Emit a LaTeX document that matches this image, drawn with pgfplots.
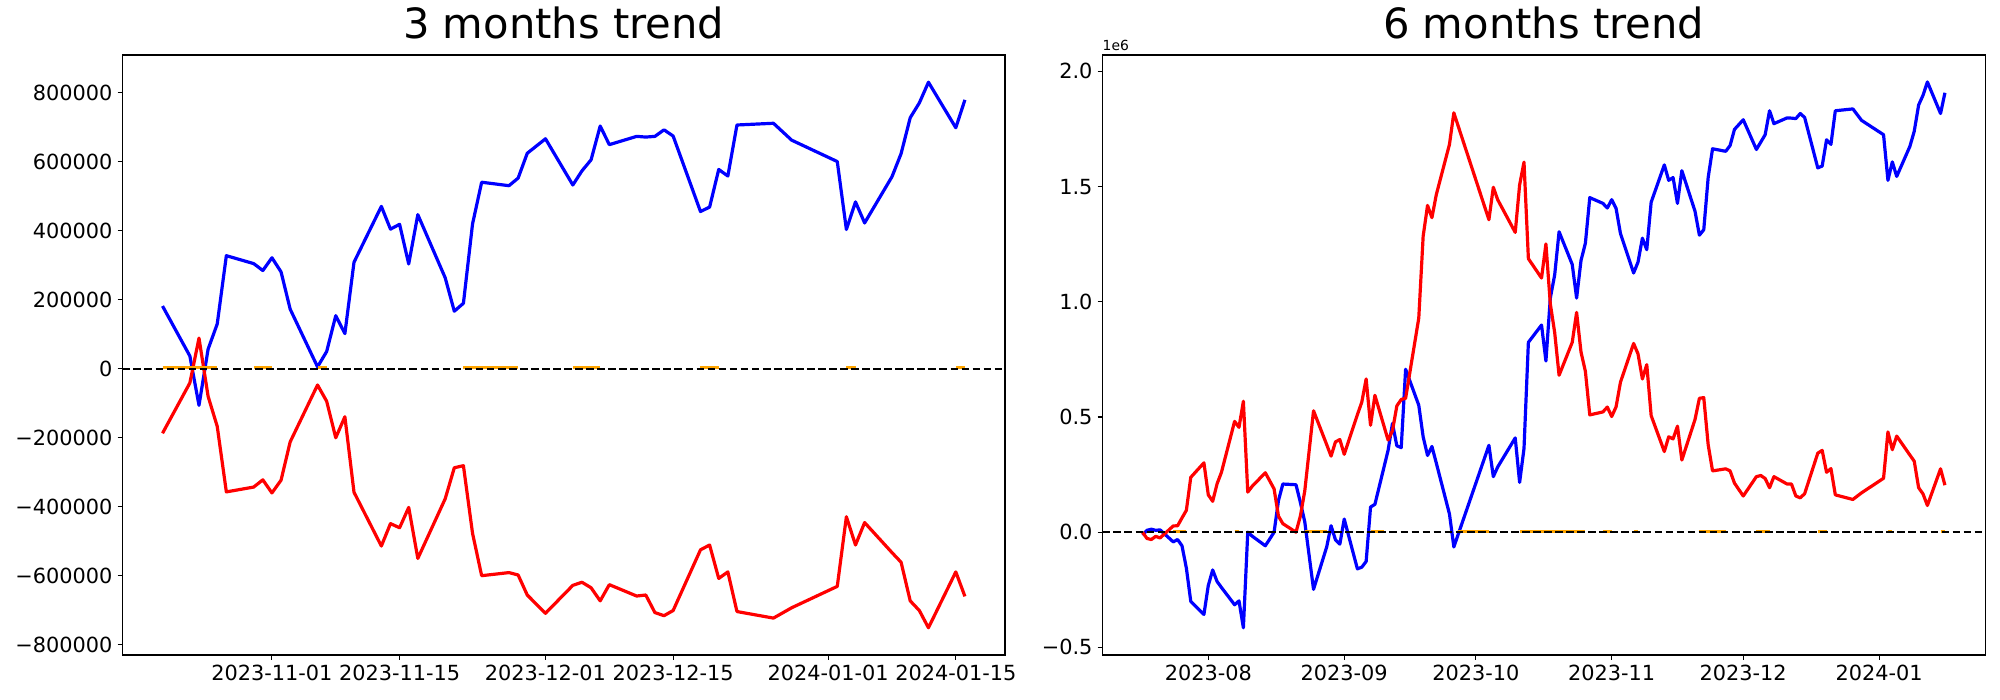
\documentclass[border=0pt]{standalone}
\usepackage{fontspec}
\setmainfont{DejaVu Sans}
\usepackage{pgfplots}
\usepackage{pgfplotstable}
\pgfplotsset{compat=1.18}
\definecolor{mplorange}{RGB}{255,165,0}
\definecolor{mplblue}{RGB}{0,0,255}
\definecolor{mplred}{RGB}{255,0,0}

\pgfplotstableread{
d blue red
-12 182000 -187000
-9 37000 -41000
-8 -106000 89000
-7 57000 -80000
-6 130000 -167000
-5 328000 -357000
-2 305000 -343000
-1 285000 -322000
0 322000 -360000
1 281000 -323000
2 173000 -212000
5 5600 -47000
6 50000 -94000
7 154000 -200000
8 102000 -139000
9 309000 -358000
12 471000 -514000
13 405000 -449000
14 419000 -461000
15 304000 -402000
16 447000 -550000
19 264000 -377000
20 167000 -287000
21 190000 -281000
22 420000 -477000
23 541000 -600000
26 531000 -591000
27 553000 -598000
28 625000 -656000
30 667000 -709000
33 533000 -628000
34 574000 -619000
35 606000 -635000
36 704000 -673000
37 650000 -626000
40 674000 -659000
41 672000 -656000
42 674000 -707000
43 693000 -716000
44 675000 -701000
47 456000 -525000
48 469000 -511000
49 578000 -608000
50 559000 -589000
51 707000 -704000
55 712000 -723000
57 663000 -693000
62 601000 -631000
63 404000 -429000
64 484000 -511000
65 423000 -446000
68 557000 -533000
69 624000 -561000
70 728000 -673000
71 771000 -701000
72 831000 -751000
75 699000 -589000
76 780000 -660000
}\tabA

\pgfplotstableread{
d v
-12 3000
-9 3000
-8 3000
-7 3000
-6 3000
-5 nan
-2 3000
-1 3000
0 3000
1 nan
5 3000
6 3000
7 nan
21 3000
22 3000
23 3000
26 3000
27 3000
28 nan
33 3000
34 3000
35 3000
36 3000
37 nan
47 3000
48 3000
49 3000
50 nan
63 3000
64 3000
65 nan
75 3000
76 3000
}\tabAo

\pgfplotstableread{
d blue red
-15 -0.013 0.000
-14 0.008 -0.027
-13 0.013 -0.032
-12 0.008 -0.018
-11 0.010 -0.025
-8 -0.042 0.027
-7 -0.032 0.028
-6 -0.059 0.062
-5 -0.156 0.095
-4 -0.300 0.238
-1 -0.357 0.301
0 -0.231 0.162
1 -0.164 0.134
2 -0.214 0.21
3 -0.24 0.26
6 -0.315 0.481
7 -0.298 0.455
8 -0.415 0.568
9 0.0 0.174
10 -0.017 0.199
13 -0.059 0.258
14 -0.03 0.223
15 0.0 0.188
16 0.137 0.070
17 0.209 0.037
20 0.206 0.0
21 0.129 0.07
22 0.045 0.179
24 -0.248 0.527
27 -0.064 0.38
28 0.028 0.33
29 -0.033 0.392
30 -0.052 0.402
31 0.057 0.338
34 -0.159 0.51
35 -0.152 0.564
36 -0.127 0.665
37 0.109 0.464
38 0.121 0.594
41 0.355 0.40
42 0.472 0.44
43 0.375 0.548
44 0.367 0.576
45 0.707 0.581
48 0.551 0.929
49 0.414 1.284
50 0.333 1.418
51 0.372 1.365
52 0.30 1.465
55 0.079 1.683
56 -0.064 1.820
64 0.377 1.356
65 0.241 1.497
66 0.283 1.443
70 0.409 1.301
71 0.216 1.507
72 0.363 1.606
73 0.824 1.187
76 0.899 1.103
77 0.743 1.251
78 1.016 0.991
79 1.117 0.866
80 1.304 0.681
83 1.162 0.824
84 1.016 0.954
85 1.179 0.782
86 1.254 0.698
87 1.452 0.509
90 1.427 0.522
91 1.407 0.543
92 1.443 0.502
93 1.405 0.544
94 1.296 0.651
97 1.125 0.819
98 1.172 0.774
99 1.276 0.665
100 1.226 0.727
101 1.432 0.506
104 1.594 0.350
105 1.527 0.414
106 1.539 0.405
107 1.427 0.460
108 1.569 0.313
111 1.393 0.489
112 1.289 0.581
113 1.313 0.584
114 1.539 0.380
115 1.664 0.266
118 1.653 0.275
119 1.678 0.266
120 1.748 0.213
122 1.790 0.157
125 1.661 0.241
126 1.693 0.246
127 1.725 0.233
128 1.829 0.193
129 1.773 0.241
132 1.798 0.209
133 1.797 0.209
134 1.795 0.157
135 1.817 0.149
136 1.800 0.167
139 1.581 0.343
140 1.589 0.355
141 1.703 0.260
142 1.683 0.276
143 1.829 0.162
147 1.837 0.142
149 1.787 0.171
154 1.725 0.234
155 1.527 0.435
156 1.607 0.358
157 1.544 0.417
160 1.674 0.335
161 1.740 0.308
162 1.854 0.193
163 1.896 0.166
164 1.954 0.116
167 1.817 0.275
168 1.907 0.204
}\tabB

\pgfplotstableread{
d v
-8 0.004
-7 0.004
-6 0.004
-5 0.004
-4 nan
6 0.004
7 0.004
8 nan
22 0.004
27 0.004
28 nan
37 0.004
38 0.004
40 0.004
41 nan
57 0.004
64 0.004
65 nan
71 0.004
86 0.004
87 nan
90 0.004
92 0.004
93 nan
97 0.004
98 0.004
99 nan
112 0.004
118 0.004
119 nan
125 0.004
128 0.004
129 nan
139 0.004
141 0.004
142 nan
155 0.004
156 0.004
157 nan
167 0.004
168 0.004
}\tabBo

\pgfplotsset{
  mystyle/.style={
    scale only axis, width=635.5bp, height=432bp,
    axis line style={line width=0.8bp, black},
    tick align=outside, tick pos=left, major tick length=3.5bp,
    every tick/.style={black, line width=0.8bp},
    tick label style={font=\fontsize{15bp}{18bp}\selectfont},
    xticklabel style={inner sep=0pt, anchor=north, yshift=-3.5bp},
    yticklabel style={inner sep=0pt, anchor=east, xshift=-3.5bp},
    title style={font=\fontsize{30bp}{36bp}\selectfont, anchor=base, at={(0.5,1)}, yshift=6bp, inner sep=0pt},
    unbounded coords=jump,
    scaled ticks=false,
    /pgf/number format/assume math mode=true,
    every axis plot/.append style={line join=round},
  }
}

\begin{document}
\begin{tikzpicture}
\begin{axis}[mystyle, name=left, at={(0,0)}, anchor=south west,
  title={3 months trend},
  xmin=-16.4, xmax=80.4, ymin=-830000, ymax=910000,
  xtick={0,14,30,44,61,75},
  xticklabels={2023-11-01,2023-11-15,2023-12-01,2023-12-15,2024-01-01,2024-01-15},
  ytick={-800000,-600000,-400000,-200000,0,200000,400000,600000,800000},
  yticklabels={−800000,−600000,−400000,−200000,0,200000,400000,600000,800000},
]
\addplot[mplblue, line width=2.3bp] table[x=d, y=blue] {\tabA};
\addplot[mplred, line width=2.3bp] table[x=d, y=red] {\tabA};
\addplot[mplorange, line width=2bp] table[x=d, y=v] {\tabAo};
\addplot[black, line width=1.6bp, dash pattern=on 5.55bp off 2.4bp] coordinates {(-16.4,0) (80.4,0)};
\end{axis}
\begin{axis}[mystyle, name=right, at={(705.6bp,0)}, anchor=south west,
  title={6 months trend},
  xmin=-24.15, xmax=177.15, ymin=-0.533, ymax=2.071,
  xtick={0,31,61,92,122,153},
  xticklabels={2023-08,2023-09,2023-10,2023-11,2023-12,2024-01},
  ytick={-0.5,0,0.5,1,1.5,2},
  yticklabels={−0.5,0.0,0.5,1.0,1.5,2.0},
]
\addplot[mplblue, line width=2.3bp] table[x=d, y=blue] {\tabB};
\addplot[mplred, line width=2.3bp] table[x=d, y=red] {\tabB};
\addplot[mplorange, line width=2bp] table[x=d, y=v] {\tabBo};
\addplot[black, line width=1.6bp, dash pattern=on 5.55bp off 2.4bp] coordinates {(-24.15,0) (177.15,0)};
\end{axis}
\node[anchor=south west, inner sep=0pt, font=\fontsize{10bp}{12bp}\selectfont] at ([yshift=3bp]right.north west) {1e6};
\pgfresetboundingbox
\useasboundingbox (-88.13bp,-32.4bp) rectangle (1351.87bp,471.6bp);
\end{tikzpicture}
\end{document}
